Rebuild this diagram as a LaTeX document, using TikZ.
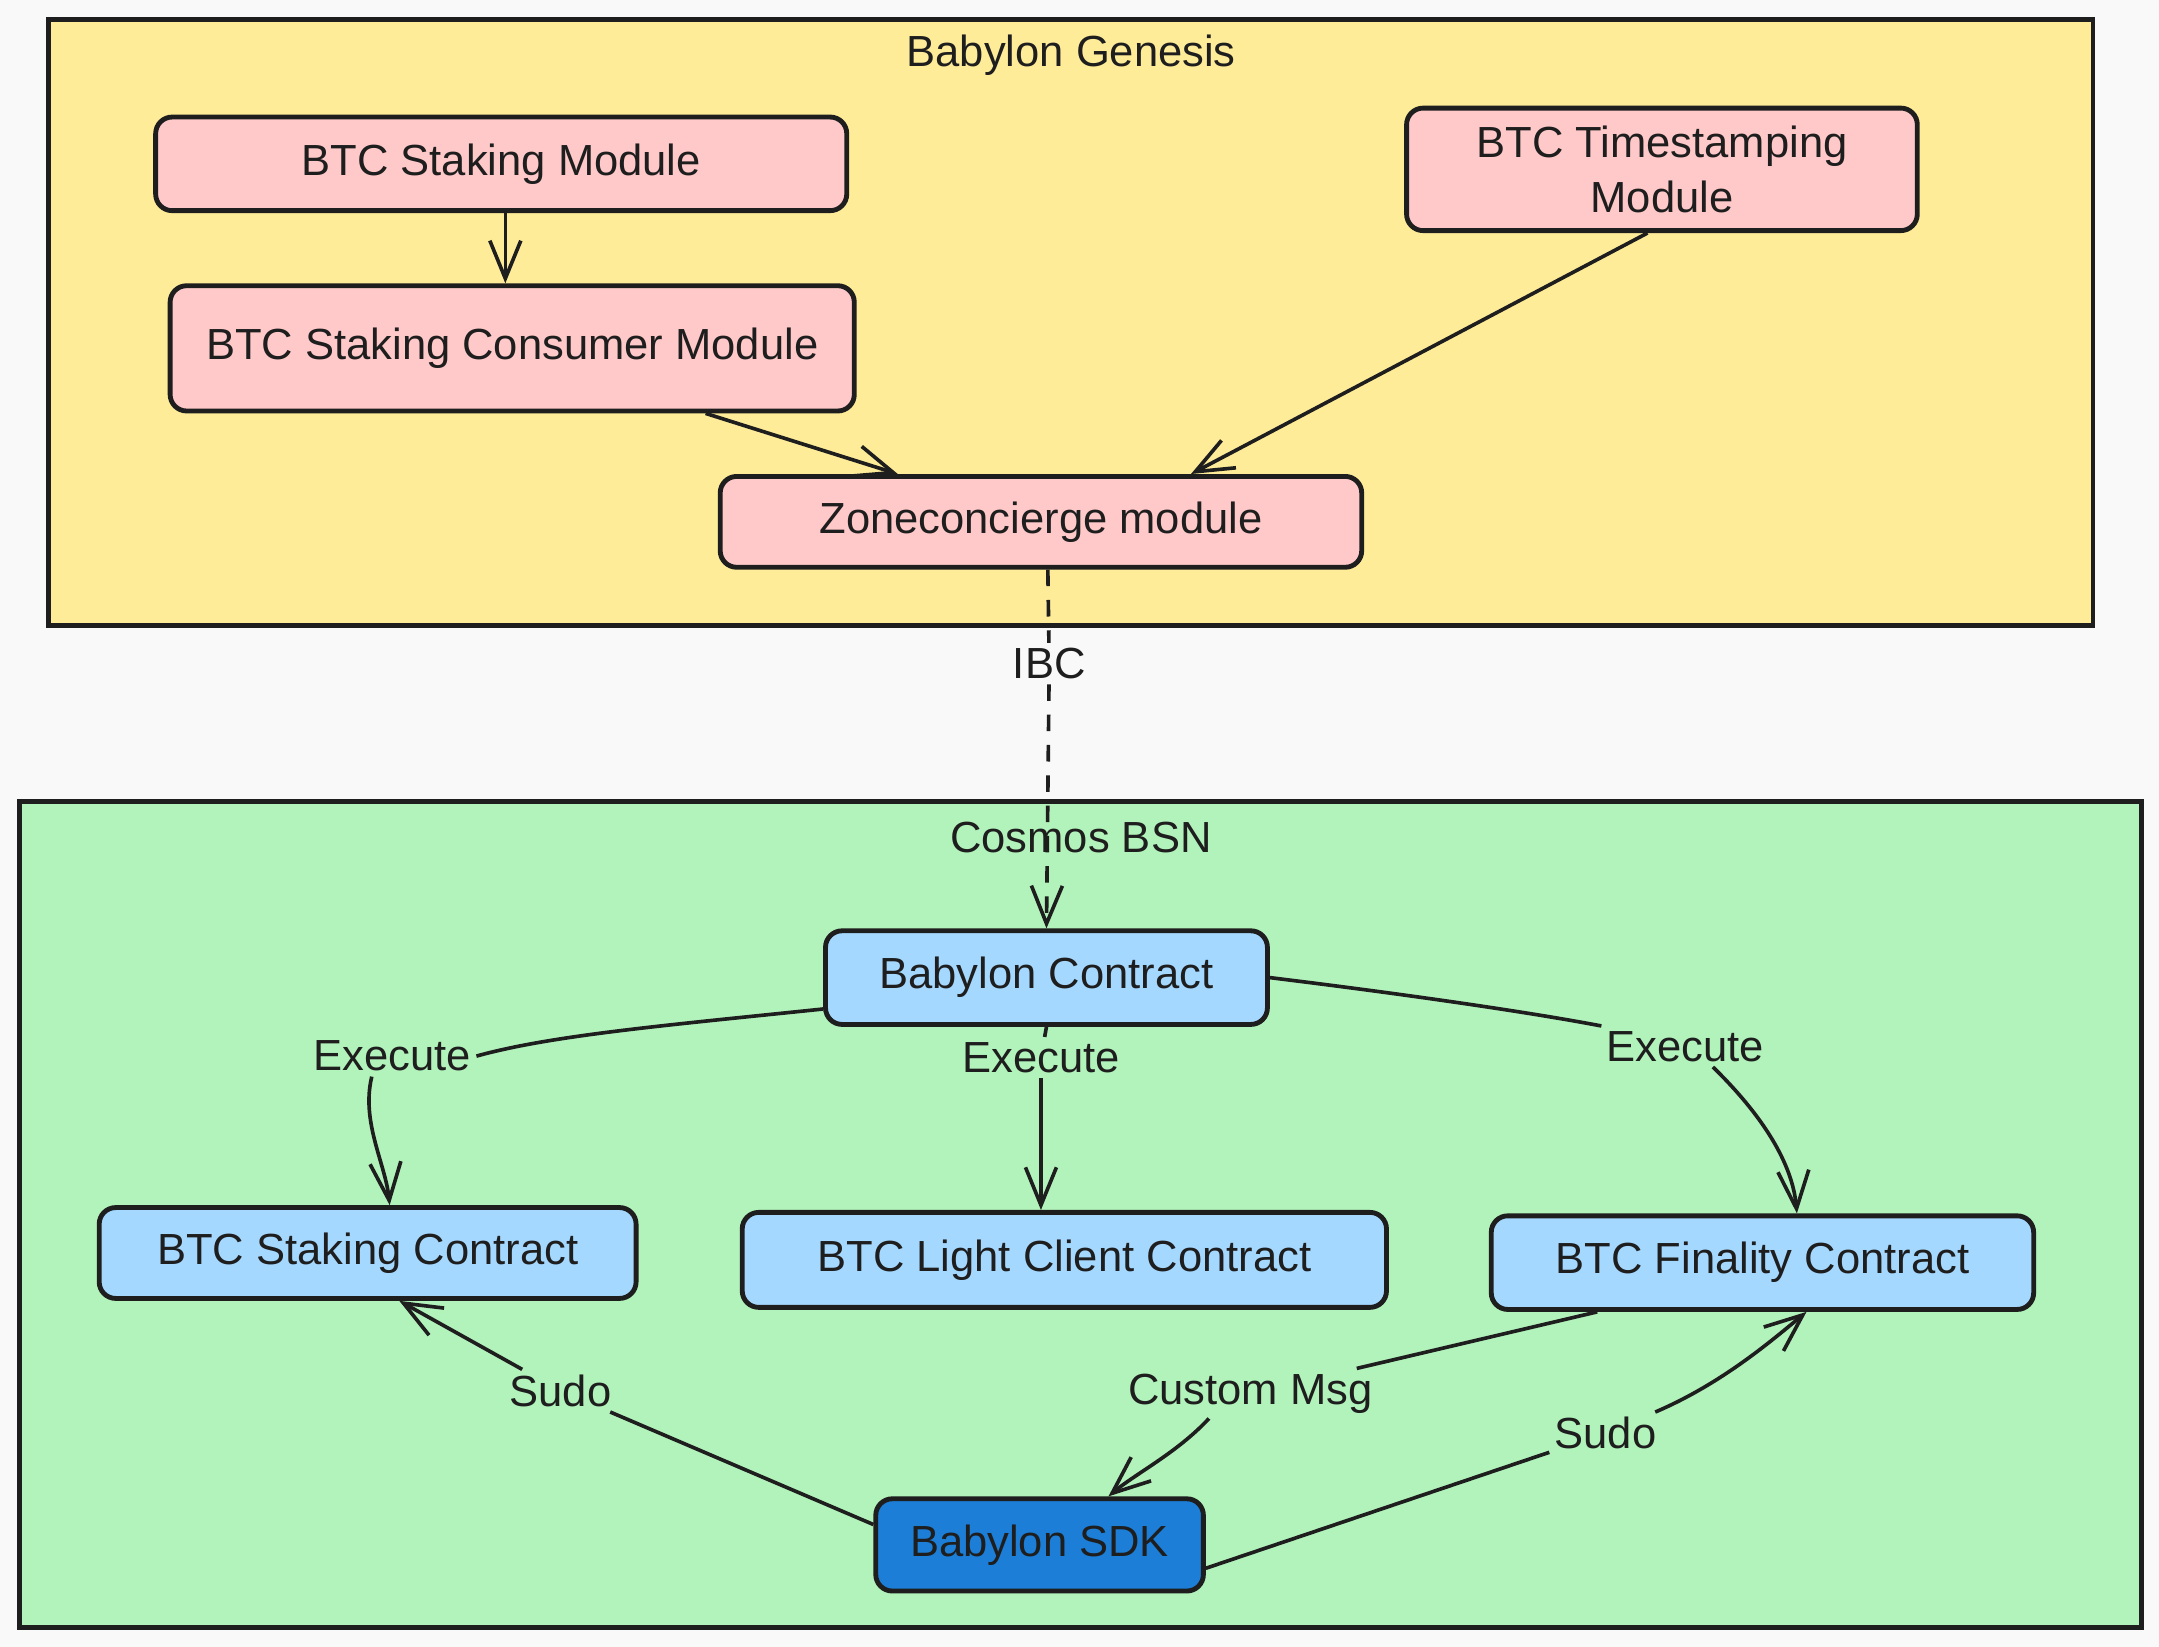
\documentclass[tikz,border=0pt]{standalone}
\usepackage{fontspec}
\setmainfont{Liberation Sans}
\usetikzlibrary{arrows.meta}

\definecolor{bgpage}{HTML}{F9F9F9}
\definecolor{genesisfill}{HTML}{FFEC99}
\definecolor{bsnfill}{HTML}{B2F2BB}
\definecolor{modfill}{HTML}{FFC9C9}
\definecolor{ctrfill}{HTML}{A5D8FF}
\definecolor{sdkfill}{HTML}{1C7ED6}
\definecolor{ink}{HTML}{1E1E1E}

\begin{document}
\begin{tikzpicture}[x=0.02cm, y=-0.02cm,
	font=\fontsize{18}{23}\selectfont,
	box/.style={draw=ink, line width=2pt, rounded corners=0.24cm, align=center, text=ink, inner sep=0pt},
	modbox/.style={box, fill=modfill},
	ctrbox/.style={box, fill=ctrfill},
	link/.style={draw=ink, line width=1.5pt},
	arr/.style={link, -{Straight Barb[length=0.55cm, width=0.45cm, line width=1.5pt]}},
	lbl/.style={text=ink, fill=bsnfill, inner sep=2pt}]

		\fill[bgpage] (0, 0) rectangle (1568, 1196);

		\draw[draw=ink, line width=2pt, fill=genesisfill] (35, 14) rectangle (1520, 454);
		\draw[draw=ink, line width=2pt, fill=bsnfill] (14, 582) rectangle (1555, 1182);
		\node[text=ink] (genesis) at (778, 40) {Babylon Genesis};
		\node[text=ink] (bsn) at (785, 608) {Cosmos BSN};

		\node[modbox, minimum width=10.04cm, minimum height=1.36cm] (sm) at (364, 119) {BTC Staking Module};
		\node[modbox, minimum width=7.42cm, minimum height=1.78cm] (ts) at (1207, 123) {BTC Timestamping\\Module};
		\node[modbox, minimum width=9.94cm, minimum height=1.82cm] (cm) at (372, 253) {BTC Staking Consumer Module};
		\node[modbox, minimum width=9.32cm, minimum height=1.32cm] (zc) at (756, 379) {Zoneconcierge module};

		\node[ctrbox, minimum width=6.42cm, minimum height=1.36cm] (bc) at (760, 710) {Babylon Contract};
		\node[ctrbox, minimum width=7.8cm, minimum height=1.32cm] (sc) at (267, 910) {BTC Staking Contract};
		\node[ctrbox, minimum width=9.36cm, minimum height=1.38cm] (lc) at (773, 915) {BTC Light Client Contract};
		\node[ctrbox, minimum width=7.88cm, minimum height=1.36cm] (fc) at (1280, 917) {BTC Finality Contract};
		\node[box, fill=sdkfill, minimum width=4.76cm, minimum height=1.34cm] (sdk) at (755, 1122) {Babylon SDK};

		\node[lbl, fill=bgpage] (ibc) at (762, 482) {IBC};
		\node[lbl] (e1) at (285, 767) {Execute};
		\node[lbl] (e2) at (756, 768) {Execute};
		\node[lbl] (e3) at (1224, 760) {Execute};
		\node[lbl] (msg) at (908, 1012) {Custom Msg};
		\node[lbl] (s1) at (407, 1010) {Sudo};
		\node[lbl] (s2) at (1166, 1041) {Sudo};

		\draw[arr] ([xshift=0.06cm]sm.south) -- ([xshift=0.06cm]sm.south |- cm.north);
		\draw[arr] ([xshift=2.81cm]cm.south) -- ([xshift=-2.08cm]zc.north);
		\draw[arr] ([xshift=-0.21cm]ts.south) -- ([xshift=2.18cm]zc.north);

		\draw[link, dash pattern=on 0.24cm off 0.2cm] ([xshift=0.1cm]zc.south) -- (ibc);
		\draw[arr, dash pattern=on 0.24cm off 0.2cm] (ibc) -- (bc.north);

		\draw[link] (bc.188) .. controls (480, 745) and (400, 752) .. (e1.east);
		\draw[arr] ([xshift=-0.3cm]e1.south) .. controls (262, 815) and (280, 845) .. ([xshift=0.32cm]sc.north);

		\draw[link] (bc.south) -- (e2);
		\draw[arr] (e2.south) -- (e2.south |- lc.north);

		\draw[link] (bc.east) .. controls (1020, 722) and (1110, 735) .. (e3.north west);
		\draw[arr] ([xshift=0.4cm]e3.south) .. controls (1280, 810) and (1302, 845) .. ([xshift=0.5cm]fc.north);

		\draw[link] ([xshift=-2.4cm]fc.south) -- (msg);
		\draw[arr] ([xshift=-0.6cm]msg.south) .. controls (855, 1055) and (825, 1070) .. ([xshift=1cm]sdk.north);

		\draw[link] (sdk.173) -- (s1);
		\draw[arr] (s1) -- ([xshift=0.46cm]sc.south);

		\draw[link] (sdk.352) -- (s2);
		\draw[arr] (s2) .. controls (1250, 1005) and (1285, 975) .. ([xshift=0.64cm]fc.south);

	\end{tikzpicture}
\end{document}
